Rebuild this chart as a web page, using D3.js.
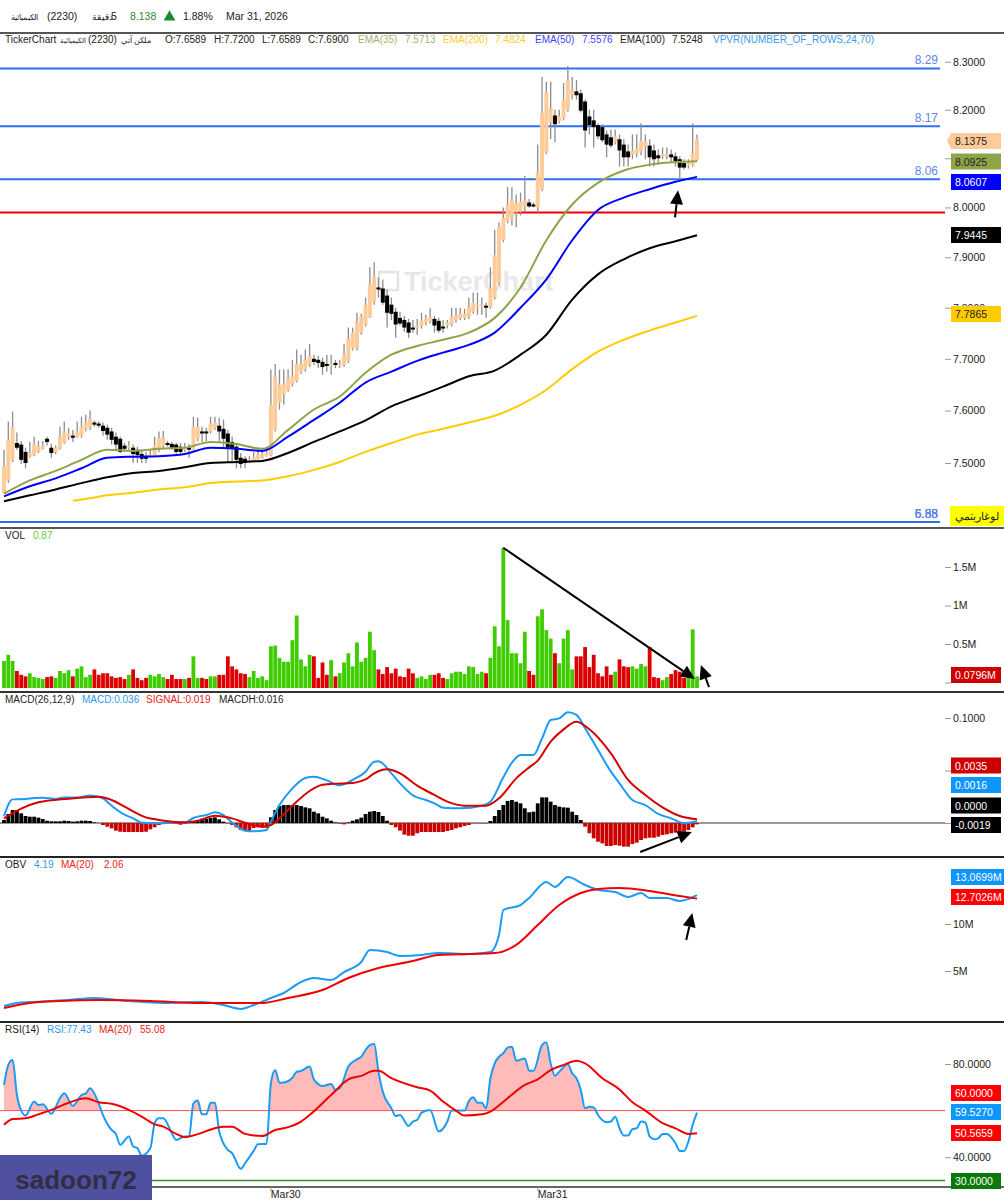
<!DOCTYPE html>
<html lang="ar">
<head>
<meta charset="UTF-8">
<title>TickerChart 2230</title>
<script src="https://d3js.org/d3.v7.min.js"></script>
<style>
    body { margin: 0; background: #fff; font-family: "Liberation Sans", Arial, sans-serif; }
    svg { display: block; }
    text { font-size: 10px; fill: #222; }
    .axis .domain { display: none; }
    .axis line { stroke: #999; }
    .axis text { font-family: "Liberation Sans", Arial, sans-serif; font-size: 10.5px; fill: #222; }
</style>
</head>
<body>
<div id="container"></div>
<script>
// candles, one value per 5 minute bar
const opens = [
7.444,7.467,7.506,7.538,7.535,7.521,7.512,7.515,7.521,7.527,
7.546,7.529,7.521,7.527,7.538,7.550,7.552,7.550,7.552,7.565,
7.567,7.577,7.575,7.571,7.567,7.560,7.550,7.546,7.533,7.529,
7.529,7.525,7.517,7.513,7.512,7.513,7.525,7.533,7.538,7.536,
7.535,7.531,7.525,7.529,7.527,7.546,7.560,7.560,7.560,7.567,
7.571,7.565,7.556,7.540,7.531,7.510,7.508,7.502,7.504,7.508,
7.510,7.513,7.515,7.563,7.615,7.631,7.640,7.650,7.657,7.675,
7.680,7.688,7.700,7.698,7.694,7.690,7.688,7.692,7.688,7.688,
7.696,7.720,7.720,7.751,7.767,7.782,7.812,7.840,7.838,7.824,
7.806,7.792,7.780,7.776,7.771,7.761,7.763,7.765,7.771,7.774,
7.778,7.774,7.763,7.765,7.767,7.776,7.780,7.780,7.782,7.792,
7.802,7.802,7.804,7.802,7.820,7.850,7.934,7.972,7.979,7.990,
7.992,8.002,8.010,8.006,8.000,8.037,8.112,8.174,8.188,8.176,
8.182,8.200,8.232,8.238,8.234,8.217,8.186,8.178,8.168,8.164,
8.149,8.143,8.133,8.139,8.128,8.114,8.108,8.110,8.114,8.124,
8.126,8.116,8.106,8.104,8.104,8.108,8.104,8.098,8.090,8.085,
8.087,8.096];
const closes = [
7.494,7.544,7.569,7.529,7.506,7.500,7.519,7.535,7.531,7.533,
7.540,7.519,7.529,7.550,7.560,7.556,7.548,7.560,7.569,7.577,
7.584,7.573,7.571,7.561,7.554,7.544,7.535,7.521,7.527,7.533,
7.517,7.515,7.508,7.508,7.515,7.533,7.548,7.548,7.535,7.529,
7.521,7.521,7.529,7.527,7.569,7.569,7.558,7.558,7.575,7.577,
7.560,7.546,7.529,7.527,7.506,7.498,7.500,7.506,7.512,7.515,
7.517,7.519,7.611,7.665,7.650,7.650,7.661,7.667,7.690,7.690,
7.698,7.706,7.694,7.692,7.684,7.688,7.690,7.688,7.690,7.708,
7.739,7.751,7.771,7.782,7.806,7.846,7.862,7.836,7.810,7.790,
7.788,7.767,7.769,7.761,7.751,7.759,7.765,7.775,7.778,7.782,
7.765,7.755,7.761,7.771,7.782,7.784,7.788,7.788,7.802,7.810,
7.806,7.806,7.800,7.838,7.904,7.961,7.979,8.006,8.017,8.008,
8.012,8.015,8.002,8.002,8.070,8.194,8.236,8.202,8.170,8.186,
8.221,8.261,8.242,8.230,8.198,8.157,8.168,8.164,8.145,8.137,
8.128,8.126,8.145,8.116,8.102,8.102,8.116,8.120,8.135,8.133,
8.102,8.098,8.100,8.108,8.108,8.102,8.094,8.081,8.081,8.090,
8.110,8.139];
const highs = [
7.525,7.579,7.598,7.558,7.542,7.529,7.540,7.550,7.542,7.542,
7.550,7.536,7.533,7.569,7.579,7.567,7.563,7.579,7.588,7.592,
7.600,7.581,7.579,7.577,7.573,7.567,7.558,7.550,7.538,7.542,
7.535,7.531,7.523,7.521,7.525,7.550,7.560,7.561,7.542,7.540,
7.538,7.538,7.538,7.536,7.588,7.586,7.569,7.567,7.588,7.588,
7.586,7.583,7.563,7.550,7.538,7.519,7.513,7.513,7.521,7.529,
7.529,7.529,7.679,7.690,7.679,7.679,7.679,7.698,7.718,7.708,
7.718,7.729,7.708,7.706,7.702,7.708,7.708,7.698,7.698,7.729,
7.761,7.761,7.790,7.788,7.820,7.880,7.890,7.860,7.856,7.836,
7.820,7.800,7.792,7.784,7.778,7.776,7.778,7.790,7.786,7.800,
7.784,7.780,7.776,7.776,7.800,7.800,7.800,7.798,7.820,7.830,
7.830,7.820,7.810,7.880,7.955,7.970,8.000,8.041,8.041,8.026,
8.030,8.064,8.017,8.010,8.128,8.268,8.258,8.258,8.200,8.200,
8.256,8.291,8.268,8.262,8.242,8.221,8.200,8.200,8.172,8.170,
8.157,8.159,8.159,8.149,8.139,8.128,8.149,8.149,8.172,8.149,
8.139,8.128,8.118,8.122,8.122,8.118,8.112,8.104,8.098,8.098,
8.172,8.149];
const lows = [
7.444,7.462,7.502,7.525,7.498,7.490,7.510,7.513,7.519,7.525,
7.533,7.510,7.517,7.525,7.536,7.544,7.540,7.548,7.548,7.560,
7.563,7.569,7.567,7.552,7.544,7.535,7.525,7.519,7.521,7.525,
7.500,7.500,7.500,7.500,7.510,7.512,7.521,7.529,7.531,7.525,
7.515,7.517,7.521,7.510,7.525,7.542,7.540,7.542,7.556,7.563,
7.540,7.529,7.500,7.500,7.490,7.490,7.490,7.500,7.502,7.506,
7.508,7.512,7.513,7.560,7.602,7.611,7.636,7.646,7.654,7.671,
7.675,7.684,7.688,7.682,7.669,7.675,7.669,7.682,7.682,7.684,
7.692,7.716,7.716,7.747,7.763,7.780,7.806,7.820,7.806,7.761,
7.776,7.741,7.765,7.753,7.741,7.751,7.747,7.759,7.765,7.769,
7.751,7.751,7.751,7.759,7.763,7.771,7.776,7.776,7.778,7.788,
7.786,7.786,7.780,7.798,7.816,7.844,7.930,7.968,7.964,7.960,
7.984,7.992,8.000,8.000,7.990,8.033,8.108,8.139,8.133,8.172,
8.178,8.196,8.221,8.221,8.194,8.122,8.149,8.122,8.139,8.133,
8.102,8.122,8.128,8.083,8.083,8.083,8.098,8.102,8.106,8.098,
8.083,8.083,8.087,8.098,8.098,8.091,8.083,8.058,8.077,8.079,
8.083,8.094];

// moving averages, read at every sixth bar
const emaIdx = [0,6,12,18,24,30,36,42,48,54,60,66,72,78,84,90,96,102,108,114,120,126,132,138,144,150,156,161];
const ema35 = [7.442,7.467,7.485,7.506,7.525,7.523,7.527,7.529,7.540,7.536,7.527,7.563,7.602,7.627,7.673,7.708,7.725,7.737,7.751,7.780,7.840,7.934,8.006,8.050,8.075,8.087,8.092,8.094];
const ema50 = [7.437,7.456,7.471,7.490,7.510,7.512,7.513,7.517,7.529,7.527,7.523,7.550,7.582,7.615,7.654,7.675,7.696,7.712,7.727,7.751,7.800,7.856,7.934,7.995,8.020,8.037,8.052,8.062];
const ema100 = [7.428,7.439,7.450,7.462,7.473,7.481,7.485,7.492,7.500,7.502,7.504,7.519,7.540,7.560,7.581,7.608,7.627,7.646,7.666,7.677,7.708,7.747,7.816,7.866,7.896,7.918,7.932,7.944];
const ema200Idx = [16,18,24,30,36,42,48,54,60,66,72,78,84,90,96,102,108,114,120,126,132,138,144,150,156,161];
const ema200 = [7.429,7.431,7.439,7.444,7.450,7.454,7.462,7.465,7.467,7.475,7.487,7.502,7.521,7.538,7.554,7.565,7.577,7.590,7.611,7.640,7.680,7.714,7.737,7.755,7.771,7.784];

const levels = [8.286,8.166,8.057,7.389];
const levelLabels = ['8.29','8.17','8.06',''];
const redLevel = 7.99;
const bottomLabels = ['6.88','6.55','5.88'];
const priceTicks = [8.3,8.2,8.1,8.0,7.9,7.8,7.7,7.6,7.5];

// volume, millions
const vols = [
.28,.36,.28,.15,.10,.08,.12,.07,.06,.045,
.07,.08,.06,.15,.12,.16,.08,.18,.21,.07,
.10,.17,.10,.12,.12,.08,.06,.07,.045,.10,
.17,.06,.03,.06,.10,.08,.11,.07,.045,.10,
.045,.045,.045,.06,.34,.06,.06,.045,.08,.08,
.10,.10,.34,.21,.17,.12,.11,.07,.15,.06,
.08,.03,.47,.48,.32,.27,.27,.55,.87,.30,
.21,.36,.34,.06,.26,.10,.29,.08,.12,.26,
.38,.21,.52,.27,.32,.66,.42,.17,.11,.20,
.12,.18,.08,.07,.18,.12,.06,.08,.045,.10,
.10,.12,.06,.045,.12,.14,.14,.11,.21,.20,
.11,.14,.12,.32,.73,.47,1.75,.81,.38,.38,
.25,.66,.15,.10,.86,.95,.68,.57,.38,.25,
.57,.68,.17,.34,.34,.46,.20,.36,.12,.08,
.21,.10,.14,.30,.21,.20,.21,.18,.24,.21,
.46,.07,.06,.03,.07,.11,.16,.14,.06,.10,
.69,.08];
const volDir = 'gggrrrgggg' + 'rrggggrggg' + 'grrrrrrrrg' + 'rrrrggggrr' + 'rrgrggrrgg' + 'rrrrrrrggg'
    + 'gggggggggg' + 'ggrrrrgrgg' + 'gggggggrrr' + 'rrrrrrgggg' + 'rrrggggggg' + 'ggrggggggg'
    + 'ggrrggggrg' + 'gggrrrrrrr' + 'rrgrrrgggg' + 'rrrggrrrrg' + 'gg';

// macd
const macdIdx = [0,2,5,7,9,12,14,17,20,23,25,28,30,32,36,40,42,44,47,49,51,53,56,58,61,62,64,67,70,72,75,78,80,81,84,86,87,90,92,95,98,100,102,106,111,113,116,118,120,123,125,127,129,131,133,135,138,141,143,146,149,152,155,158,161];
const macdLine = [.0067,.0225,.0229,.0238,.0241,.0229,.0244,.0244,.0263,.0235,.0165,.0079,.0044,.0003,-.0003,.001,.0003,.0048,.0076,.0102,.0076,.0003,-.0073,-.0079,-.0067,.0013,.0171,.033,.0429,.0441,.0406,.0359,.0387,.041,.0489,.0584,.0587,.0473,.0378,.0263,.0219,.0187,.0146,.014,.0165,.0203,.0435,.0575,.0648,.0648,.0806,.0981,.0997,.1054,.1029,.0902,.0695,.0489,.0378,.0219,.0171,.0086,.0044,-.0003,.0016];
const signalIdx = [0,4,8,15,22,25,28,33,36,42,45,49,53,56,60,62,64,67,71,74,77,80,84,86,89,92,96,100,103,107,112,115,119,122,124,127,130,133,136,141,145,149,153,157,161];
const signalLine = [.0044,.0137,.0197,.0232,.0251,.0219,.0156,.0054,.0029,.0006,.0022,.007,.0044,.0003,-.0035,-.0019,.0044,.0165,.0305,.0365,.0375,.0378,.0416,.0473,.0511,.0473,.0356,.0267,.0203,.0165,.0165,.0235,.0425,.053,.0594,.0775,.0892,.0965,.0892,.0663,.041,.0267,.0149,.0067,.0035];
const macdHist = [
.0029,.0086,.0124,.0124,.0092,.0067,.006,.006,.0051,.0038,
.0022,.0016,.0016,.0016,.0022,.0019,.0013,.0016,.0022,.0022,
.0019,.0006,0,-.0019,-.0035,-.0051,-.0073,-.0083,-.0086,-.0086,
-.0086,-.0086,-.0086,-.0083,-.006,-.0041,-.0019,-.001,-.0003,-.0003,
-.0006,-.0016,-.001,0,.0019,.0029,.0041,.0041,.0048,.0054,
.0035,.0013,-.0003,-.0019,-.0041,-.0067,-.0076,-.0076,-.0048,-.0041,
-.0044,-.0048,.0054,.0124,.0162,.0171,.0171,.0171,.0171,.0162,
.0149,.014,.0108,.0092,.006,.0044,.0022,.0006,-.0006,-.0013,
.0006,.0022,.0035,.0051,.0086,.0108,.0114,.0105,.0067,.0022,
-.0019,-.0041,-.0073,-.0111,-.0121,-.0121,-.0098,-.0086,-.0086,-.0086,
-.0086,-.0086,-.0086,-.0076,-.0067,-.0051,-.0041,-.0029,-.0019,-.0003,
-.0003,-.0003,-.0003,.0019,.0067,.0124,.0171,.021,.0219,.0203,
.0187,.014,.0102,.0108,.0187,.0244,.0244,.0203,.0171,.0156,
.0149,.0146,.0108,.0076,.0029,-.0035,-.0098,-.0146,-.0178,-.0194,
-.0219,-.0219,-.021,-.0216,-.0225,-.0225,-.02,-.0187,-.0162,-.0146,
-.014,-.014,-.013,-.0114,-.0108,-.0098,-.0092,-.0083,-.0083,-.0067,
-.0041,-.0013];

// obv, millions
const obvIdx = [0,3,6,11,15,21,29,37,46,51,55,58,62,65,69,72,76,79,83,85,89,92,97,101,108,113,115,116,120,122,126,128,131,135,138,142,145,148,150,154,157,159,161];
const obvLine = [1.28,1.6,1.7,1.81,1.91,2.13,1.81,1.6,1.7,1.38,.96,1.38,2.13,2.66,3.83,4.26,4.04,4.89,5.96,7.23,7.02,6.6,6.7,6.91,6.81,7.02,8.83,11.49,12.02,12.77,14.47,13.94,15.0,14.15,13.62,13.4,12.87,13.3,12.77,12.77,12.45,12.66,13.07];
const obvMaIdx = [0,6,13,22,34,46,60,66,74,80,87,95,101,108,114,119,124,129,134,138,143,150,157,161];
const obvMa = [1.06,1.6,1.81,1.91,1.81,1.6,1.6,2.13,2.98,4.26,5.32,6.06,6.7,6.81,6.91,7.77,9.89,12.02,13.3,13.72,13.83,13.51,12.98,12.7];

// rsi
const rsiIdx = [0,1,2,3,4,5,7,8,9,11,13,14,16,18,19,20,22,23,25,26,27,29,30,31,32,34,35,36,37,39,40,42,43,44,45,46,47,48,49,50,52,53,55,56,58,59,61,62,63,64,65,67,68,69,71,72,74,76,77,78,80,
    82,83,84,85,86,87,88,90,91,92,94,95,96,97,99,101,103,104,107,108,109,110,111,112,113,114,115,116,117,118,119,121,122,123,125,126,127,128,129,131,132,133,134,135,136,137,138,140,141,142,143,144,145,146,147,148,149,150,151,152,153,154,156,157,158,159,160,161];
const rsiLine = [71.0,79.6,81.7,66.7,60.0,57.9,63.9,62.4,62.7,58.6,65.3,67.4,62.0,66.7,67.4,69.6,63.1,58.1,51.7,50.0,45.3,48.9,44.6,43.9,40.6,43.9,54.6,56.7,56.7,50.3,47.4,48.9,48.9,63.1,64.3,58.4,58.4,63.4,63.4,51.0,43.1,41.7,35.0,37.4,42.7,45.6,45.7,71.7,77.4,72.0,72.1,74.1,76.7,77.0,78.9,73.4,70.6,71.4,68.9,69.6,78.9,
    82.0,83.1,86.0,88.1,88.6,76.7,68.1,61.0,57.7,58.1,53.4,55.3,56.0,59.1,60.3,51.0,55.3,60.0,60.0,64.1,65.7,63.4,63.4,61.0,73.9,80.3,83.1,84.6,87.0,87.4,81.4,82.4,77.1,77.1,88.1,89.3,80.3,75.0,76.7,79.9,76.0,73.9,68.9,61.0,61.7,61.4,58.1,55.0,55.3,57.4,52.4,49.3,49.3,52.1,52.4,55.3,54.9,48.9,47.7,48.1,50.0,50.0,46.0,42.7,42.7,46.7,53.9,59.1];
const rsiMaIdx = [0,2,5,8,11,15,19,22,25,29,32,35,37,40,42,45,49,51,53,56,60,63,65,69,71,76,80,83,86,87,90,96,99,102,105,107,111,113,117,121,124,127,130,133,135,139,143,146,149,153,156,159,161];
const rsiMa = [53.9,56.4,56.7,58.4,60.3,63.4,65.3,63.6,62.9,60.3,57.4,54.1,53.1,50.0,48.6,49.9,52.4,53.1,53.1,50.0,49.1,51.7,52.4,55.3,58.1,66.7,73.4,74.9,77.1,77.1,73.9,70.0,68.6,63.9,60.0,57.9,58.4,59.6,65.3,71.0,73.4,77.4,79.6,81.4,80.3,73.9,69.1,63.6,60.0,54.6,52.4,50.0,50.3];
const rsiUpper = 60;
const rsiLower = 30;

const dayTicks = [[62,'Mar30'],[124,'Mar31']];

const width = 1004, height = 1200;
const axisX = 945, lineEnd = 945;

const svg = d3.select('#container').append('svg').attr('width', width).attr('height', height);

const x = d3.scaleLinear().domain([0, 161]).range([4, 697]);
const yPrice = d3.scaleLog().domain([7.5, 8.3]).range([463, 61.7]);
const yVol = d3.scaleLinear().domain([0, 1.5]).range([682.5, 567]);
const yMacd = d3.scaleLinear().domain([0, 0.1]).range([823, 718]);
const yObv = d3.scaleLinear().domain([0, 10]).range([1018, 924]);
const yRsi = d3.scaleLinear().domain([30, 80]).range([1180.5, 1064]);

function drawLine(idx, vals, scale, color, w) {
    const line = d3.line().x(d => x(d[0])).y(d => scale(d[1])).curve(d3.curveMonotoneX);
    svg.append('path')
        .datum(idx.map((d, i) => [d, vals[i]]))
        .attr('d', line)
        .attr('fill', 'none')
        .attr('stroke', color)
        .attr('stroke-width', w);
}

function drawAxis(scale, ticks, fmt) {
    svg.append('g')
        .attr('class', 'axis')
        .attr('transform', `translate(${axisX},0)`)
        .call(d3.axisRight(scale).tickValues(ticks).tickSize(6).tickPadding(2).tickFormat(fmt));
}

// right side value tag
function tag(text, yPos, bg, fg, w) {
    const g = svg.append('g');
    g.append('rect').attr('x', 951).attr('y', yPos - 8).attr('width', w || 50).attr('height', 16).attr('fill', bg);
    g.append('text').attr('x', 955).attr('y', yPos + 4).style('fill', fg).style('font-size', '10.5px').text(text);
}

function arrow(scale, from, to) {
    const x1 = x(from[0]), y1 = scale(from[1]), x2 = x(to[0]), y2 = scale(to[1]);
    const a = Math.atan2(y2 - y1, x2 - x1);
    const len = 14, half = 6.5;
    const bx = x2 - len * Math.cos(a), by = y2 - len * Math.sin(a);
    svg.append('line').attr('x1', x1).attr('y1', y1).attr('x2', bx).attr('y2', by)
        .attr('stroke', '#000').attr('stroke-width', 2);
    svg.append('polygon')
        .attr('points', [[x2, y2], [bx - half * Math.sin(a), by + half * Math.cos(a)], [bx + half * Math.sin(a), by - half * Math.cos(a)]].join(' '))
        .attr('fill', '#000');
}

function texts(row) {
    row.forEach(d => {
        svg.append('text').attr('x', d[0]).attr('y', d[1]).style('fill', d[3] || '#222')
            .style('font-size', d[4] || null).text(d[2]);
    });
}

// panel dividers
[[33, '#555'], [528, '#555'], [692, '#333'], [857, '#222'], [1022, '#222'], [1187, '#666']].forEach(d => {
    svg.append('line').attr('x1', 0).attr('x2', width).attr('y1', d[0]).attr('y2', d[0])
        .attr('stroke', d[1]).attr('stroke-width', 2);
});

// watermark
svg.append('rect').attr('x', 379).attr('y', 272).attr('width', 19).attr('height', 18)
    .attr('fill', 'none').attr('stroke', '#e4e4e4').attr('stroke-width', 2.5);
svg.append('text').attr('x', 404).attr('y', 291).style('font-size', '27px').style('font-weight', 'bold')
    .style('fill', '#e8e8e8').text('TickerChart');

// header
texts([
    [11, 20, 'الكيميائية', '#222', '8px'], [47, 20, '(2230)', '#222', '10.5px'], [92, 20, 'دقيقة', '#222', '8.5px'], [111, 20, '5', '#222', '10.5px'],
    [130, 20, '8.138', '#2e8b2e', '10.5px'], [183, 20, '1.88%', '#222', '10.5px'], [226, 20, 'Mar 31, 2026', '#222', '10.5px']
]);
svg.append('path').attr('d', d3.symbol(d3.symbolTriangle, 60)()).attr('transform', 'translate(169.5,17)').attr('fill', '#1a8a2e');

texts([
    [5, 43, 'TickerChart'], [60, 43, 'الكيميائية', '#222', '7px'], [88, 43, '(2230)'], [121, 43, 'ملكن آتي', '#222', '8px'],
    [165, 43, 'O:7.6589'], [214, 43, 'H:7.7200'], [262, 43, 'L:7.6589'], [308, 43, 'C:7.6900'],
    [358, 43, 'EMA(35)', '#a3b36b'], [405, 43, '7.5713', '#a3b36b'],
    [443, 43, 'EMA(200)', '#ffcc33'], [495, 43, '7.4824', '#ffcc33'],
    [535, 43, 'EMA(50)', '#4444ff'], [582, 43, '7.5576', '#4444ff'],
    [620, 43, 'EMA(100)'], [672, 43, '7.5248'],
    [713, 43, 'VPVR(NUMBER_OF_ROWS,24,70)', '#3d9bf0']
]);

// price panel, 8.1 sits under the tags
drawAxis(yPrice, priceTicks, d => d === 8.1 ? '' : d3.format('.4f')(d));

levels.forEach((d, i) => {
    svg.append('line').attr('x1', 0).attr('x2', 940).attr('y1', yPrice(d)).attr('y2', yPrice(d))
        .attr('stroke', '#2e6ff0').attr('stroke-width', 2);
    svg.append('text').attr('x', 938).attr('y', yPrice(d) - 4).attr('text-anchor', 'end')
        .style('font-size', '12px').style('fill', '#5f86e8').text(levelLabels[i]);
});
bottomLabels.forEach(d => {
    svg.append('text').attr('x', 938).attr('y', yPrice(levels[3]) - 4).attr('text-anchor', 'end')
        .style('font-size', '12px').style('fill', '#5f86e8').text(d);
});
svg.append('line').attr('x1', 0).attr('x2', lineEnd).attr('y1', yPrice(redLevel)).attr('y2', yPrice(redLevel))
    .attr('stroke', '#f00000').attr('stroke-width', 2);

svg.selectAll('.wick')
    .data(d3.range(opens.length))
    .enter()
    .append('line')
    .attr('class', 'wick')
    .attr('x1', i => x(i)).attr('x2', i => x(i))
    .attr('y1', i => yPrice(highs[i])).attr('y2', i => yPrice(lows[i]))
    .attr('stroke', '#8c8c8c').attr('stroke-width', 1.3);

svg.selectAll('.body')
    .data(d3.range(opens.length))
    .enter()
    .append('rect')
    .attr('class', 'body')
    .attr('x', i => x(i) - 2)
    .attr('width', 4)
    .attr('y', i => yPrice(Math.max(opens[i], closes[i])))
    .attr('height', i => Math.max(2, Math.abs(yPrice(opens[i]) - yPrice(closes[i]))))
    .attr('fill', i => closes[i] >= opens[i] ? '#ffcc99' : '#000');

drawLine(ema200Idx, ema200, yPrice, '#ffcc00', 2);
drawLine(emaIdx, ema100, yPrice, '#000', 2);
drawLine(emaIdx, ema35, yPrice, '#8fa34a', 2);
drawLine(emaIdx, ema50, yPrice, '#0000ff', 2);

arrow(yPrice, [155.9, 7.98], [156.6, 8.035]);

svg.append('polygon').attr('points', '947,141 951,133 1001,133 1001,149 951,149').attr('fill', '#ffcc99');
tag('8.1375', 141, '#ffcc99', '#222');
tag('8.0925', 161.5, '#8fa34a', '#222');
tag('8.0607', 182, '#0000ff', '#fff');
tag('7.9445', 235, '#000', '#fff');
tag('7.7865', 314, '#ffcc00', '#222');
svg.append('rect').attr('x', 950).attr('y', 506).attr('width', 54).attr('height', 20).attr('fill', '#ffff00');
svg.append('text').attr('x', 977).attr('y', 520).attr('text-anchor', 'middle').style('font-size', '10.5px').text('لوغاريتمي');

// volume panel
texts([[5, 539, 'VOL'], [33, 539, '0.87', '#66cc33']]);
drawAxis(yVol, [0, 0.5, 1, 1.5], d => d === 0 ? '' : d + 'M');
svg.selectAll('.vol')
    .data(vols)
    .enter()
    .append('rect')
    .attr('class', 'vol')
    .attr('x', (d, i) => x(i) - 1.9)
    .attr('width', 3.8)
    .attr('y', d => yVol(d))
    .attr('height', d => 688 - yVol(d))
    .attr('fill', (d, i) => volDir[i] === 'g' ? '#3fcc00' : '#dd0000');
arrow(yVol, [116, 1.75], [160.5, 0.045]);
arrow(yVol, [163.8, -0.06], [161.9, 0.227]);
tag('0.0796M', 675, '#cc0000', '#fff');

// macd panel, 0 and 0.05 sit under the tags
texts([[5, 703, 'MACD(26,12,9)'], [82, 703, 'MACD:0.036', '#3399ee'], [146, 703, 'SIGNAL:0.019', '#ee2222'], [219, 703, 'MACDH:0.016']]);
drawAxis(yMacd, [0, 0.05, 0.1], d => d === 0.1 ? d3.format('.4f')(d) : '');
svg.append('line').attr('x1', 0).attr('x2', lineEnd).attr('y1', yMacd(0)).attr('y2', yMacd(0))
    .attr('stroke', '#777').attr('stroke-width', 1.5);
svg.selectAll('.hist')
    .data(macdHist)
    .enter()
    .append('rect')
    .attr('class', 'hist')
    .attr('x', (d, i) => x(i) - 1.9)
    .attr('width', 3.8)
    .attr('y', d => yMacd(Math.max(d, 0)))
    .attr('height', d => Math.abs(yMacd(d) - yMacd(0)))
    .attr('fill', d => d >= 0 ? '#000' : '#cc0000');
drawLine(macdIdx, macdLine, yMacd, '#1a9bf5', 2);
drawLine(signalIdx, signalLine, yMacd, '#d60000', 2);
arrow(yMacd, [147.8, -0.0276], [159.8, -0.0086]);
tag('0.0035', 765.5, '#cc0000', '#fff');
tag('0.0016', 785, '#0e96ff', '#fff');
tag('0.0000', 805.5, '#000', '#fff');
tag('-0.0019', 825, '#000', '#fff');

// obv panel
texts([[5, 868, 'OBV'], [34, 868, '4.19', '#3399ee'], [61, 868, 'MA(20)', '#ee2222'], [104, 868, '2.06', '#ee2222']]);
drawAxis(yObv, [5, 10], d => d + 'M');
drawLine(obvIdx, obvLine, yObv, '#1a9bf5', 2);
drawLine(obvMaIdx, obvMa, yObv, '#f00000', 2);
arrow(yObv, [158.5, 8.3], [159.9, 11.17]);
svg.append('text');
tag('13.0699M', 877, '#0e96ff', '#fff', 53);
tag('12.7026M', 897, '#ff0000', '#fff', 53);

// rsi panel
texts([[5, 1033, 'RSI(14)'], [47, 1033, 'RSI:77.43', '#3399ee'], [99, 1033, 'MA(20)', '#ee2222'], [140, 1033, '55.08', '#ee2222']]);
drawAxis(yRsi, [40, 80], d3.format('.4f'));

svg.append('clipPath').attr('id', 'above').append('rect')
    .attr('x', 0).attr('y', 1030).attr('width', axisX).attr('height', yRsi(rsiUpper) - 1030);
svg.append('path')
    .datum(rsiIdx.map((d, i) => [d, rsiLine[i]]))
    .attr('clip-path', 'url(#above)')
    .attr('d', d3.area().x(d => x(d[0])).y0(yRsi(rsiUpper)).y1(d => yRsi(d[1])).curve(d3.curveMonotoneX))
    .attr('fill', '#ffbaba');
svg.append('line').attr('x1', 0).attr('x2', lineEnd).attr('y1', yRsi(rsiUpper)).attr('y2', yRsi(rsiUpper))
    .attr('stroke', '#ff5050').attr('stroke-width', 1);
svg.append('line').attr('x1', 0).attr('x2', lineEnd).attr('y1', yRsi(rsiLower)).attr('y2', yRsi(rsiLower))
    .attr('stroke', '#3c8c2c').attr('stroke-width', 1.5);
drawLine(rsiIdx, rsiLine, yRsi, '#1a9bf5', 2);
drawLine(rsiMaIdx, rsiMa, yRsi, '#f00000', 2);
tag('60.0000', 1093, '#ff0000', '#fff');
tag('59.5270', 1112, '#0e96ff', '#fff');
tag('50.5659', 1133, '#ff0000', '#fff');
tag('30.0000', 1181, '#0a7a0a', '#fff');

// time axis
dayTicks.forEach(d => {
    svg.append('line').attr('x1', x(d[0])).attr('x2', x(d[0])).attr('y1', 1187).attr('y2', 1191).attr('stroke', '#999');
    svg.append('text').attr('x', x(d[0])).attr('y', 1198).style('font-size', '10.5px').text(d[1]);
});

// user name box
svg.append('rect').attr('x', 0).attr('y', 1155).attr('width', 152).attr('height', 45).attr('fill', '#5050a0');
svg.append('text').attr('x', 76).attr('y', 1189).attr('text-anchor', 'middle')
    .style('font-size', '26px').style('font-weight', 'bold').style('fill', '#2f2f3f').text('sadoon72');
</script>
</body>
</html>
